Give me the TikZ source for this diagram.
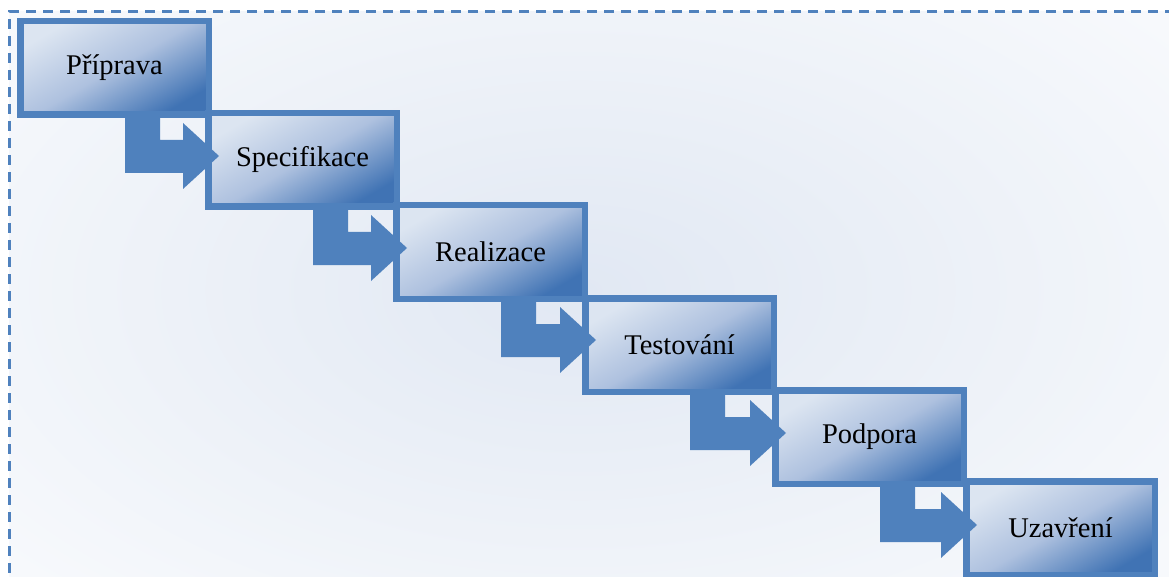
\documentclass[tikz,border=0pt]{standalone}
\usepackage{fontspec}
\setmainfont{Liberation Serif}
\usetikzlibrary{calc}

\definecolor{edge}{HTML}{4F81BD}
\definecolor{lite}{HTML}{DCE5F1}
\definecolor{mid}{HTML}{AEC1DF}
\definecolor{deep}{HTML}{4073B4}
\definecolor{bgout}{HTML}{F7F9FC}
\definecolor{bgin}{HTML}{E1E8F3}

\tikzset{
  phase/.style={draw=edge, line width=6.5pt, rectangle,
    minimum width=188.5pt, minimum height=93.5pt, inner sep=0pt,
    top color=lite, bottom color=deep, middle color=mid, shading angle=30,
    font=\fontsize{28.5}{34}\selectfont, text=black},
  flow/.style={fill=edge},
  panelborder/.style={draw=edge, line width=3pt, dash pattern=on 10pt off 7pt}
}

% bent arrow leaving the bottom of #1 and pointing into the left side of #2
\newcommand\bentarrow[2]{%
  \fill[flow]
    ($(#1.south west)+(108,-3)$) -- ($(#1.south west)+(143,-3)$)
    -- ($(#1.south west)+(143,22)$)
    -- ($(#2.west |- #1.south)+(-22,22)$) -- ($(#2.west |- #1.south)+(-22,5)$)
    -- ($(#2.west |- #1.south)+(14,38)$)
    -- ($(#2.west |- #1.south)+(-22,71)$) -- ($(#2.west |- #1.south)+(-22,55)$)
    -- ($(#1.south west)+(108,55)$) -- cycle;}

\begin{document}
\begin{tikzpicture}[x=1pt,y=-1pt]
  \useasboundingbox (0,0) rectangle (1169,577);

  % panel background with soft radial glow
  \begin{scope}
    \clip (9,12) rectangle (1169,577);
    \fill[bgout] (9,12) rectangle (1169,577);
    \shade[inner color=bgin, outer color=bgout] (-170,-130) rectangle (1330,710);
  \end{scope}
  \draw[panelborder] (1175,12) -- (9,12) -- (9,585);

  % phases
  \node[phase] (p1) at (114.5,68)  {Příprava};
  \node[phase] (p2) at (302.5,160) {Specifikace};
  \node[phase] (p3) at (490.5,252) {Realizace};
  \node[phase] (p4) at (679.5,345) {Testování};
  \node[phase] (p5) at (869.5,437) {Podpora};
  \node[phase] (p6) at (1060.5,528) {Uzavření};

  % transitions
  \bentarrow{p1}{p2}
  \bentarrow{p2}{p3}
  \bentarrow{p3}{p4}
  \bentarrow{p4}{p5}
  \bentarrow{p5}{p6}
\end{tikzpicture}
\end{document}
